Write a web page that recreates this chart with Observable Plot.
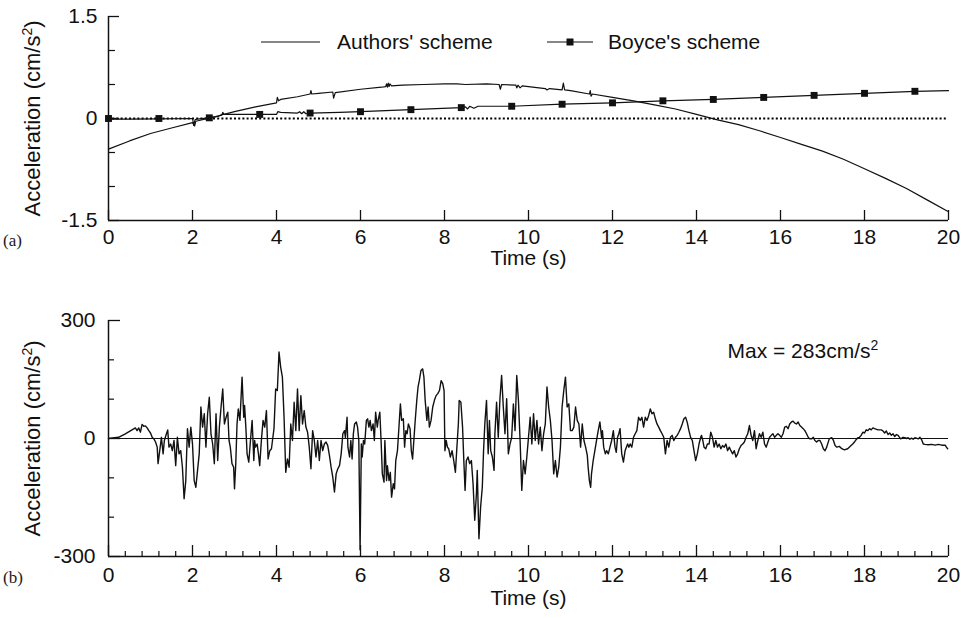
<!DOCTYPE html>
<html><head><meta charset="utf-8">
<script src="https://cdn.jsdelivr.net/npm/d3@7"></script>
<script src="https://cdn.jsdelivr.net/npm/@observablehq/plot@0.6"></script>
<style>
body{margin:0;background:#fff;}
#wrap{position:relative;width:962px;height:618px;background:#fff;overflow:hidden;}
.panel{position:absolute;left:0;}
.tag{position:absolute;left:3px;font-family:"Liberation Serif","Times New Roman",serif;font-size:17px;line-height:20px;color:#1a1a1a;}
</style></head><body><div id="wrap"></div>
<script>
// ---------- data ----------
const timeTicks = [0, 2, 4, 6, 8, 10, 12, 14, 16, 18, 20];
const accelTicksA = [-1.5, 0, 1.5];
const accelMinorA = [-1, -0.5, 0.5, 1];
const accelTicksB = [-300, 0, 300];
const accelMinorB = [-200, -100, 100, 200];
const timeMinorB = d3.range(1, 50).filter(i => i % 5 !== 0).map(i => +(i * 0.4).toFixed(1));
const seriesNames = ["Authors' scheme", "Boyce's scheme"];
const maxAccel = 283;

// (a) baseline-corrected acceleration, Authors' scheme  [time s, cm/s^2]
const authorsScheme = [[0,-0.45],[0.5,-0.33],[1,-0.22],[1.5,-0.14],[2,-0.06],[2.05,-0.11],[2.08,-0.04],[2.5,0.02],[2.7,0.05],[2.72,0.09],[2.75,0.06],[3,0.1],[3.5,0.17],[4.0,0.23],[4.02,0.31],[4.05,0.26],[4.1,0.28],[4.5,0.32],[4.8,0.36],[4.82,0.41],[4.84,0.36],[5.0,0.37],[5.34,0.39],[5.36,0.3],[5.4,0.38],[6.0,0.43],[6.5,0.46],[6.6,0.47],[6.62,0.51],[6.64,0.46],[6.66,0.52],[6.68,0.47],[6.7,0.51],[6.74,0.48],[7.0,0.49],[7.5,0.5],[8.0,0.51],[8.3,0.51],[8.5,0.5],[9.0,0.51],[9.3,0.5],[9.33,0.43],[9.36,0.5],[9.7,0.49],[9.72,0.45],[9.75,0.49],[9.8,0.45],[9.85,0.48],[10.0,0.47],[10.4,0.44],[10.44,0.42],[10.5,0.44],[10.8,0.42],[10.83,0.52],[10.86,0.42],[11.0,0.41],[11.45,0.36],[11.47,0.41],[11.49,0.33],[11.52,0.36],[12.0,0.31],[12.5,0.26],[13.0,0.2],[13.5,0.14],[14.0,0.06],[14.5,-0.02],[15.0,-0.09],[15.5,-0.18],[16.0,-0.28],[16.5,-0.38],[17.0,-0.48],[17.5,-0.6],[18.0,-0.74],[18.5,-0.88],[19.0,-1.03],[19.5,-1.2],[20.0,-1.37]];

// (a) Boyce's scheme line
const boyceScheme = [[0,-0.01],[0.5,-0.01],[1.2,-0.005],[2.0,0.0],[2.03,-0.1],[2.06,-0.02],[2.1,-0.01],[2.4,0.01],[2.6,0.03],[2.7,0.06],[3.6,0.06],[4.0,0.06],[4.03,0.1],[4.1,0.09],[4.5,0.08],[4.55,0.1],[4.6,0.07],[4.65,0.1],[4.7,0.07],[4.8,0.08],[5.5,0.09],[6.0,0.1],[7.2,0.13],[8.4,0.16],[8.5,0.17],[8.55,0.14],[8.6,0.18],[8.7,0.15],[8.8,0.18],[9.6,0.18],[10.8,0.21],[12,0.23],[13.2,0.26],[14.4,0.28],[15.6,0.31],[16.8,0.34],[18,0.37],[19.2,0.4],[20,0.41]];

// (a) Boyce's scheme markers
const boyceMarkers = [[0,0],[1.2,0],[2.4,0.01],[3.6,0.06],[4.8,0.08],[6.0,0.1],[7.2,0.13],[8.4,0.16],[9.6,0.18],[10.8,0.21],[12,0.23],[13.2,0.26],[14.4,0.28],[15.6,0.31],[16.8,0.34],[18,0.37],[19.2,0.4]];

// (b) ground acceleration record [time s, cm/s^2]
const groundAccel = [[0,0],[0.24,3],[0.4,12],[0.64,27],[0.68,20],[0.72,27],[0.76,16],[0.8,36],[0.84,31],[0.88,32],[0.92,27],[0.96,20],[1.0,14],[1.04,3],[1.08,-1],[1.12,-9],[1.16,-22],[1.18,-64],[1.22,-31],[1.26,3],[1.3,-39],[1.33,-5],[1.38,12],[1.41,22],[1.44,-22],[1.48,-14],[1.52,-31],[1.56,-5],[1.6,-69],[1.64,3],[1.68,-39],[1.72,-31],[1.76,-73],[1.8,-153],[1.84,-107],[1.88,25],[1.92,-22],[1.96,29],[2.0,-14],[2.04,-107],[2.08,-124],[2.12,-81],[2.16,-39],[2.2,80],[2.24,29],[2.28,63],[2.32,-22],[2.36,63],[2.4,105],[2.44,12],[2.48,-14],[2.52,-64],[2.56,63],[2.6,-56],[2.64,29],[2.68,80],[2.72,126],[2.76,37],[2.8,54],[2.84,67],[2.87,-5],[2.9,-22],[2.94,-64],[2.98,-73],[3.0,-128],[3.03,-64],[3.06,37],[3.09,75],[3.13,46],[3.18,156],[3.22,54],[3.24,84],[3.27,29],[3.3,-39],[3.34,-60],[3.38,-5],[3.42,46],[3.46,-56],[3.48,-5],[3.5,-22],[3.54,-14],[3.57,-39],[3.6,-69],[3.64,-5],[3.68,46],[3.72,29],[3.76,71],[3.8,-52],[3.84,-31],[3.88,-26],[3.94,25],[3.98,126],[4.02,122],[4.06,220],[4.1,181],[4.14,156],[4.18,54],[4.22,-86],[4.26,-52],[4.3,-73],[4.34,37],[4.38,-5],[4.42,92],[4.46,20],[4.5,126],[4.54,20],[4.58,109],[4.62,37],[4.66,71],[4.7,29],[4.74,16],[4.78,-22],[4.82,-77],[4.86,20],[4.9,-5],[4.94,-47],[4.98,-5],[5.02,-56],[5.06,-5],[5.1,-31],[5.14,-14],[5.18,-9],[5.22,-18],[5.26,-43],[5.3,-73],[5.34,-98],[5.38,-136],[5.42,-90],[5.46,-77],[5.5,-69],[5.54,-39],[5.58,12],[5.62,20],[5.64,3],[5.68,54],[5.7,-22],[5.74,-47],[5.77,-5],[5.8,-52],[5.83,12],[5.86,37],[5.9,42],[5.93,29],[5.96,-5],[5.99,-283],[6.02,-14],[6.04,-47],[6.07,-5],[6.1,-14],[6.14,46],[6.17,50],[6.2,29],[6.23,46],[6.26,20],[6.3,37],[6.33,-5],[6.36,67],[6.4,29],[6.42,46],[6.46,67],[6.49,-5],[6.52,-90],[6.56,-111],[6.58,-5],[6.62,-107],[6.64,-69],[6.68,-107],[6.71,-86],[6.74,-149],[6.78,-115],[6.81,-128],[6.84,-56],[6.88,-31],[6.92,37],[6.95,88],[6.98,46],[7.02,50],[7.05,-22],[7.08,20],[7.11,12],[7.14,37],[7.18,25],[7.21,-31],[7.24,-52],[7.27,-5],[7.3,42],[7.34,97],[7.37,131],[7.4,147],[7.44,173],[7.48,177],[7.51,156],[7.54,97],[7.58,46],[7.61,80],[7.64,29],[7.68,46],[7.72,80],[7.76,97],[7.8,109],[7.84,114],[7.88,122],[7.92,147],[7.96,139],[7.99,122],[8.01,-31],[8.04,-5],[8.07,-22],[8.1,-26],[8.14,-47],[8.18,-31],[8.22,-56],[8.26,-86],[8.29,-31],[8.33,37],[8.35,97],[8.39,92],[8.43,29],[8.46,-56],[8.49,-132],[8.52,-56],[8.56,-47],[8.6,-64],[8.64,-56],[8.68,-115],[8.72,-208],[8.76,-141],[8.78,-81],[8.82,-255],[8.86,-174],[8.9,-124],[8.93,-31],[8.96,37],[9.0,97],[9.04,-39],[9.07,46],[9.1,-31],[9.14,-47],[9.18,-81],[9.2,12],[9.24,92],[9.28,3],[9.32,101],[9.36,160],[9.4,80],[9.44,12],[9.48,101],[9.52,-39],[9.56,-14],[9.6,3],[9.64,88],[9.68,20],[9.72,160],[9.76,97],[9.8,-5],[9.84,-132],[9.88,-56],[9.92,-90],[9.96,-47],[10.0,3],[10.04,54],[10.08,-14],[10.12,63],[10.16,-5],[10.2,46],[10.24,-14],[10.28,29],[10.32,-31],[10.36,12],[10.4,37],[10.44,131],[10.48,80],[10.52,46],[10.56,-5],[10.6,-90],[10.64,-56],[10.68,-98],[10.72,-73],[10.76,-22],[10.8,80],[10.84,122],[10.88,156],[10.92,80],[10.96,88],[11.0,20],[11.04,20],[11.08,29],[11.12,80],[11.16,46],[11.2,37],[11.24,-22],[11.28,37],[11.32,-5],[11.36,-22],[11.4,-43],[11.42,-73],[11.45,-107],[11.48,-124],[11.5,-90],[11.54,-56],[11.58,-31],[11.62,-5],[11.66,20],[11.7,42],[11.74,3],[11.76,20],[11.79,-22],[11.83,-39],[11.86,-31],[11.9,-39],[11.94,-22],[11.98,-5],[12.02,20],[12.06,-22],[12.09,-35],[12.12,3],[12.15,12],[12.18,25],[12.22,-39],[12.26,-60],[12.3,-31],[12.33,-22],[12.36,-14],[12.39,-22],[12.42,-14],[12.46,-22],[12.5,3],[12.54,12],[12.58,20],[12.62,54],[12.66,46],[12.7,54],[12.74,29],[12.78,54],[12.82,46],[12.86,58],[12.9,75],[12.94,63],[12.98,67],[13.02,50],[13.06,37],[13.1,29],[13.14,20],[13.18,12],[13.22,3],[13.26,-39],[13.3,-5],[13.34,-22],[13.38,3],[13.42,8],[13.46,-5],[13.5,3],[13.54,8],[13.58,16],[13.62,25],[13.66,37],[13.7,50],[13.74,54],[13.78,41],[13.82,20],[13.86,3],[13.9,-5],[13.94,-31],[13.98,-56],[14.02,-39],[14.06,-14],[14.1,3],[14.12,8],[14.15,-5],[14.18,-22],[14.22,-26],[14.26,-14],[14.3,-14],[14.34,16],[14.38,3],[14.42,-22],[14.46,-5],[14.5,-22],[14.54,-14],[14.58,-26],[14.62,-18],[14.66,-22],[14.7,-14],[14.74,-31],[14.78,-22],[14.82,-31],[14.86,-39],[14.9,-31],[14.94,-47],[14.98,-39],[15.02,-26],[15.06,-18],[15.1,-14],[15.14,-9],[15.18,3],[15.22,12],[15.26,33],[15.3,8],[15.34,-5],[15.38,20],[15.42,-26],[15.46,-5],[15.5,12],[15.54,3],[15.58,16],[15.62,-14],[15.66,-22],[15.7,-9],[15.74,3],[15.78,8],[15.82,12],[15.86,3],[15.9,8],[15.94,12],[15.98,8],[16.02,3],[16.06,12],[16.1,29],[16.14,31],[16.18,25],[16.22,37],[16.26,42],[16.3,44],[16.34,39],[16.38,37],[16.42,42],[16.46,33],[16.5,29],[16.54,25],[16.58,20],[16.62,12],[16.66,3],[16.7,-1],[16.74,-1],[16.78,3],[16.82,-5],[16.86,-9],[16.9,-5],[16.94,-5],[16.98,-14],[17.02,-26],[17.06,-31],[17.1,-22],[17.16,-1],[17.22,2],[17.26,-5],[17.3,-18],[17.34,-22],[17.4,-20],[17.46,-26],[17.52,-29],[17.6,-26],[17.68,-18],[17.72,-14],[17.76,-9],[17.8,-3],[17.84,2],[17.88,3],[17.92,8],[17.96,16],[18.0,14],[18.04,22],[18.08,20],[18.12,25],[18.16,22],[18.2,27],[18.24,25],[18.32,22],[18.4,22],[18.44,19],[18.48,14],[18.52,19],[18.56,10],[18.6,14],[18.64,8],[18.68,12],[18.72,5],[18.76,10],[18.8,8],[18.86,-1],[18.92,3],[18.96,2],[19.0,0],[19.04,2],[19.08,-2],[19.12,1],[19.16,-2],[19.2,2],[19.28,-1],[19.32,3],[19.36,-3],[19.4,-14],[19.44,-15],[19.52,-16],[19.6,-15],[19.68,-17],[19.76,-15],[19.84,-17],[19.92,-17],[19.95,-22],[19.98,-26]];

// ---------- drawing ----------
const INK = "#111";
const FONT = '"Liberation Sans", Arial, Helvetica, sans-serif';
const FS = 21;
const W = 962, ML = 108, MR = 14;
const plotW = W - ML - MR;
const wrap = document.getElementById("wrap");
const tx = d => d[0], ty = d => d[1];
const Y_LABEL = "Acceleration (cm/s^2)";
const MAX_LABEL = `Max = ${maxAccel}cm/s^2`;

function axisMarks({yMin, majorY, minorY, majorX, minorX, inner, tickMajX, tickMinX, tickMajY, tickMinY}) {
  const m = [
    Plot.ruleX([0], {stroke: INK, strokeWidth: 1.5}),
    Plot.ruleY([yMin], {stroke: INK, strokeWidth: 1.5}),
    Plot.ruleX(majorX, {stroke: INK, strokeWidth: 1.3, insetTop: inner - tickMajX}),
    Plot.ruleY(majorY, {stroke: INK, strokeWidth: 1.3, insetRight: plotW - tickMajY}),
    Plot.ruleY(minorY, {stroke: INK, strokeWidth: 1.2, insetRight: plotW - tickMinY})
  ];
  if (minorX) m.push(Plot.ruleX(minorX, {stroke: INK, strokeWidth: 1.2, insetTop: inner - tickMinX}));
  return m;
}

// turn "...^2..." texts into real superscripts
function superscripts(svg) {
  d3.select(svg).selectAll("text").each(function () {
    const s = this.textContent;
    if (!s.includes("^2")) return;
    const [a, b] = s.split("^2");
    const t = d3.select(this);
    t.text(null);
    t.append("tspan").text(a);
    t.append("tspan").attr("dy", -8).attr("font-size", 14).text("2");
    if (b) t.append("tspan").attr("dy", 8).text(b);
  });
}

// Panel (a)
const hA = 280, mtA = 16, mbA = 60, innerA = hA - mtA - mbA;
const plotA = Plot.plot({
  width: W, height: hA, marginLeft: ML, marginRight: MR, marginTop: mtA, marginBottom: mbA,
  x: {domain: [0, 20]}, y: {domain: [-1.5, 1.5]},
  style: {fontFamily: FONT, fontSize: FS + "px", color: INK, background: "transparent", overflow: "visible"},
  marks: [
    Plot.ruleY([0], {stroke: "#000", strokeWidth: 2, strokeDasharray: "2,2.2"}),
    ...axisMarks({yMin: -1.5, majorY: accelTicksA, minorY: accelMinorA, majorX: timeTicks, inner: innerA, tickMajX: 10, tickMajY: 11, tickMinY: 7}),
    Plot.line(authorsScheme, {x: tx, y: ty, stroke: INK, strokeWidth: 1.2}),
    Plot.line(boyceScheme, {x: tx, y: ty, stroke: INK, strokeWidth: 1.2}),
    Plot.dot(boyceMarkers, {x: tx, y: ty, symbol: "square", r: 3.9, fill: INK, stroke: "none"}),
    Plot.axisX(timeTicks, {tickSize: 0, tickPadding: 9, tickFormat: d => String(d), label: null}),
    Plot.axisY(accelTicksA, {tickSize: 0, tickPadding: 11, tickFormat: d => String(d), label: null}),
    Plot.text(["Time (s)"], {frameAnchor: "bottom", lineAnchor: "middle", dy: 38, fill: INK}),
    Plot.text([Y_LABEL], {frameAnchor: "left", textAnchor: "middle", lineAnchor: "middle", rotate: -90, dx: -76, fill: INK, fontSize: 22})
  ]
});
plotA.classList.add("panel");
plotA.style.top = "0px";
superscripts(plotA);
wrap.appendChild(plotA);

// legend for panel (a)
const leg = d3.select(plotA).append("g").attr("font-family", FONT).attr("font-size", FS)
  .attr("fill", INK).attr("text-anchor", "start");
const legendItems = [
  {name: seriesNames[0], x1: 261, x2: 320, tx: 337, marker: false},
  {name: seriesNames[1], x1: 547, x2: 593, tx: 608, marker: true}
];
const legY = 42;
legendItems.forEach(it => {
  leg.append("line").attr("x1", it.x1).attr("x2", it.x2).attr("y1", legY).attr("y2", legY)
    .attr("stroke", INK).attr("stroke-width", 1.2);
  if (it.marker) leg.append("rect").attr("x", (it.x1 + it.x2) / 2 - 3.5).attr("y", legY - 3.5)
    .attr("width", 7).attr("height", 7).attr("fill", INK);
  leg.append("text").attr("x", it.tx).attr("y", legY + 7).attr("text-anchor", "start").text(it.name);
});

// Panel (b)
const hB = 338, mtB = 40, mbB = 62, innerB = hB - mtB - mbB;
const plotB = Plot.plot({
  width: W, height: hB, marginLeft: ML, marginRight: MR, marginTop: mtB, marginBottom: mbB,
  x: {domain: [0, 20]}, y: {domain: [-300, 300]},
  style: {fontFamily: FONT, fontSize: FS + "px", color: INK, background: "transparent", overflow: "visible"},
  marks: [
    Plot.ruleY([0], {stroke: INK, strokeWidth: 1.1}),
    ...axisMarks({yMin: -300, majorY: accelTicksB, minorY: accelMinorB, majorX: timeTicks, minorX: timeMinorB, inner: innerB, tickMajX: 11, tickMinX: 5, tickMajY: 12, tickMinY: 6}),
    Plot.line(groundAccel, {x: tx, y: ty, stroke: INK, strokeWidth: 1.4}),
    Plot.axisX(timeTicks, {tickSize: 0, tickPadding: 11, tickFormat: d => String(d), label: null}),
    Plot.axisY(accelTicksB, {tickSize: 0, tickPadding: 13, tickFormat: d => String(d), label: null}),
    Plot.text(["Time (s)"], {frameAnchor: "bottom", lineAnchor: "middle", dy: 42, fill: INK}),
    Plot.text([Y_LABEL], {frameAnchor: "left", textAnchor: "middle", lineAnchor: "middle", rotate: -90, dx: -76, fill: INK, fontSize: 22}),
    Plot.text([MAX_LABEL], {frameAnchor: "top-right", textAnchor: "start", lineAnchor: "middle", dx: -221, dy: 31, fill: INK})
  ]
});
plotB.classList.add("panel");
plotB.style.top = hA + "px";
superscripts(plotB);
wrap.appendChild(plotB);

// panel tags
[["(a)", 231], ["(b)", 568]].forEach(([t, top]) => {
  const d = document.createElement("div");
  d.className = "tag"; d.style.top = top + "px"; d.textContent = t;
  wrap.appendChild(d);
});
</script>
</body></html>
